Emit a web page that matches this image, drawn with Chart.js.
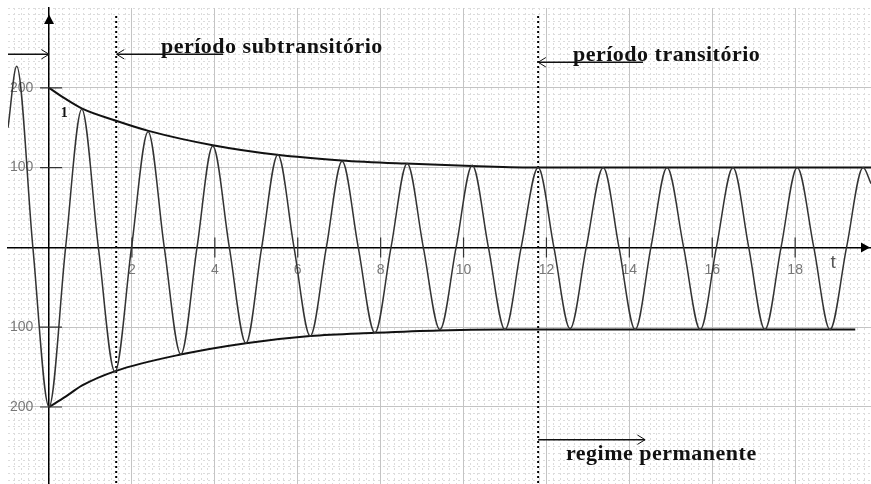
<!DOCTYPE html>
<html lang="pt">
<head>
<meta charset="UTF-8">
<title>Corrente de curto-circuito</title>
<script src="https://cdn.jsdelivr.net/npm/chart.js"></script>
<style>
  html, body { margin: 0; padding: 0; background: #fff; overflow: hidden; }
  #wrap { width: 871px; height: 484px; }
</style>
</head>
<body>
<div id="wrap"><canvas id="curto"></canvas></div>
<script>
// corrente: picos, zeros e vales
const waveT = [-0.99, -0.78, -0.39, 0, 0.4, 0.79, 1.19, 1.59, 1.99, 2.39,
               2.78, 3.18, 3.57, 3.95, 4.35, 4.75, 5.13, 5.52, 5.91, 6.30,
               6.69, 7.07, 7.46, 7.86, 8.25, 8.64, 9.03, 9.43, 9.82, 10.21,
               10.6, 11.0, 11.39, 11.8, 12.18, 12.57, 12.96, 13.37, 13.75, 14.14,
               14.52, 14.91, 15.31, 15.71, 16.1, 16.5, 16.88, 17.27, 17.66, 18.05,
               18.45, 18.84, 19.24, 19.64, 19.83];
const waveI = [150, 227, 0, -200, 0, 173, 0, -156, 0, 145,
               0, -134, 0, 127, 0, -120, 0, 116, 0, -111,
               0, 108, 0, -107, 0, 105, 0, -103, 0, 103,
               0, -103, 0, 100, 0, -102, 0, 100, 0, -103,
               0, 100, 0, -103, 0, 100, 0, -103, 0, 100,
               0, -103, 0, 100, 80];

// envoltórias
const upperT = [0, 0.4, 0.8, 1.6, 2.4, 3.95, 5.5, 7.05, 8.6, 10.2, 11.8, 19.83];
const upperI = [200, 186, 174, 159, 146, 128, 116, 109, 105, 102, 100, 100];
const lowerT = [0, 0.4, 0.8, 1.6, 3.2, 4.75, 6.3, 7.85, 9.4, 11, 19.45];
const lowerI = [-200, -187, -173, -155, -134, -120, -111, -107, -104, -103, -103];

// limites dos períodos (linhas pontilhadas)
const markT = [1.62, 11.8];

// setas: início, fim, altura, ponta
const arrowFrom = [-0.99, 1.63, 11.8, 11.8];
const arrowTo = [0, 4.2, 14.33, 14.38];
const arrowLevel = [242, 242, 232, -241];
const arrowTip = ['end', 'start', 'start', 'end'];

const xTicks = [2, 4, 6, 8, 10, 12, 14, 16, 18];
const yTicks = [200, 100, -100, -200];

const serif = 'bold 22px "Liberation Serif"';
const notes = [
  { text: 'período subtransitório', t: 2.7, v: 244, font: serif, color: '#111' },
  { text: 'período transitório', t: 12.64, v: 233, font: serif, color: '#111' },
  { text: 'regime permanente', t: 12.47, v: -267, font: serif, color: '#111' },
  { text: 't', t: 18.85, v: -26, font: '19px "Liberation Sans"', color: '#555' },
  { text: '1', t: 0.28, v: 164, font: 'bold 14px "Liberation Serif"', color: '#111' }
];

const xMin = -0.99, xMax = 19.83, yMin = -296.5, yMax = 300;

const pts = (ts, vs) => ts.map((t, i) => ({ x: t, y: vs[i] }));

const datasets = [
  { data: pts(waveT, waveI), borderColor: '#333', borderWidth: 1.5, cubicInterpolationMode: 'monotone' },
  { data: pts(upperT, upperI), borderColor: '#111', borderWidth: 2, cubicInterpolationMode: 'monotone' },
  { data: pts(lowerT, lowerI), borderColor: '#111', borderWidth: 2, cubicInterpolationMode: 'monotone' }
];
markT.forEach(t => datasets.push({
  data: [{ x: t, y: 290 }, { x: t, y: yMin }], borderColor: '#000', borderWidth: 2, borderDash: [2, 3]
}));
arrowFrom.forEach((a, i) => datasets.push({
  data: [{ x: a, y: arrowLevel[i] }, { x: arrowTo[i], y: arrowLevel[i] }],
  borderColor: '#111', borderWidth: 1.5, arrowAt: arrowTip[i]
}));

const extras = {
  id: 'extras',
  afterDatasetsDraw(chart) {
    const { ctx, chartArea: area, scales: { x, y } } = chart;
    const x0 = x.getPixelForValue(0), y0 = y.getPixelForValue(0);
    ctx.save();
    // marcas cruzando os eixos
    ctx.strokeStyle = '#333';
    ctx.lineWidth = 1.2;
    ctx.beginPath();
    x.ticks.forEach(tk => { const px = x.getPixelForValue(tk.value); ctx.moveTo(px, y0 - 10); ctx.lineTo(px, y0 + 10); });
    yTicks.forEach(v => { const py = y.getPixelForValue(v); ctx.moveTo(x0 - 9, py); ctx.lineTo(x0 + 13, py); });
    ctx.stroke();
    // pontas dos eixos
    ctx.fillStyle = '#000';
    ctx.beginPath(); ctx.moveTo(x0, y.getPixelForValue(292)); ctx.lineTo(x0 - 5, y.getPixelForValue(280)); ctx.lineTo(x0 + 5, y.getPixelForValue(280)); ctx.fill();
    ctx.beginPath(); ctx.moveTo(area.right - 1, y0); ctx.lineTo(area.right - 10, y0 - 5); ctx.lineTo(area.right - 10, y0 + 5); ctx.fill();
    // pontas das setas
    chart.data.datasets.forEach((ds, i) => {
      if (!ds.arrowAt) return;
      const p = chart.getDatasetMeta(i).data;
      const [a, b] = ds.arrowAt === 'end' ? [p[0], p[p.length - 1]] : [p[p.length - 1], p[0]];
      const ang = Math.atan2(b.y - a.y, b.x - a.x);
      ctx.strokeStyle = ds.borderColor;
      ctx.lineWidth = 1;
      ctx.beginPath();
      [-1, 1].forEach(s => {
        ctx.moveTo(b.x, b.y);
        ctx.lineTo(b.x - 9 * Math.cos(ang + s * 0.55), b.y - 9 * Math.sin(ang + s * 0.55));
      });
      ctx.stroke();
    });
    // textos
    ctx.textAlign = 'left';
    ctx.textBaseline = 'alphabetic';
    notes.forEach(n => {
      ctx.font = n.font;
      ctx.letterSpacing = n.font === serif ? '0.5px' : '0px';
      ctx.fillStyle = n.color;
      ctx.fillText(n.text, x.getPixelForValue(n.t), y.getPixelForValue(n.v));
    });
    ctx.restore();
  }
};

// eixos sem espaço reservado: a área do gráfico ocupa toda a tela
const flat = s => {
  if (s.isHorizontal()) s.height = 0; else s.width = 0;
  s.paddingTop = s.paddingBottom = s.paddingLeft = s.paddingRight = 0;
};

const minorX = [], minorY = [];
for (let k = -5; k <= 119; k++) minorX.push(k / 6);
for (let k = -35; k <= 36; k++) minorY.push(k * 100 / 12);

new Chart(document.getElementById('curto'), {
  type: 'line',
  data: { datasets },
  plugins: [extras],
  options: {
    responsive: true,
    maintainAspectRatio: false,
    animation: false,
    layout: { padding: { left: 8, top: 8, right: 0, bottom: 0 } },
    elements: { point: { radius: 0 }, line: { fill: false } },
    plugins: { legend: { display: false }, tooltip: { enabled: false } },
    scales: {
      xm: {
        type: 'linear', min: xMin, max: xMax, position: 'bottom', afterFit: flat,
        afterBuildTicks: s => { s.ticks = minorX.map(v => ({ value: v })); },
        ticks: { display: false },
        grid: { color: '#dcdcdc', lineWidth: 1, drawTicks: false, z: -1 },
        border: { display: false, dash: [2, 3] }
      },
      ym: {
        type: 'linear', min: yMin, max: yMax, position: 'left', afterFit: flat,
        afterBuildTicks: s => { s.ticks = minorY.map(v => ({ value: v })); },
        ticks: { display: false },
        grid: { color: '#dcdcdc', lineWidth: 1, drawTicks: false, z: -1 },
        border: { display: false, dash: [2, 3] }
      },
      yl: {
        type: 'linear', min: yMin, max: yMax, position: 'left', afterFit: flat,
        afterBuildTicks: s => { s.ticks = yTicks.map(v => ({ value: v })); },
        ticks: { color: '#777', font: { family: 'Liberation Sans', size: 14 }, mirror: true, padding: 2,
                 callback: v => String(Math.abs(v)) },
        grid: { color: '#c4c4c4', lineWidth: 1, drawTicks: false },
        border: { display: false }
      },
      x: {
        type: 'linear', min: xMin, max: xMax, position: { y: 0 }, afterFit: flat,
        afterBuildTicks: s => { s.ticks = xTicks.map(v => ({ value: v })); },
        ticks: { color: '#777', font: { family: 'Liberation Sans', size: 14 }, padding: 4, maxRotation: 0 },
        grid: { color: '#c4c4c4', lineWidth: 1, tickLength: 10, tickColor: 'transparent' },
        border: { color: '#000', width: 1.5 }
      },
      y: {
        type: 'linear', min: yMin, max: yMax, position: { x: 0 }, afterFit: flat,
        ticks: { display: false },
        grid: { display: false },
        border: { color: '#000', width: 1.5 }
      }
    }
  }
});
</script>
</body>
</html>
